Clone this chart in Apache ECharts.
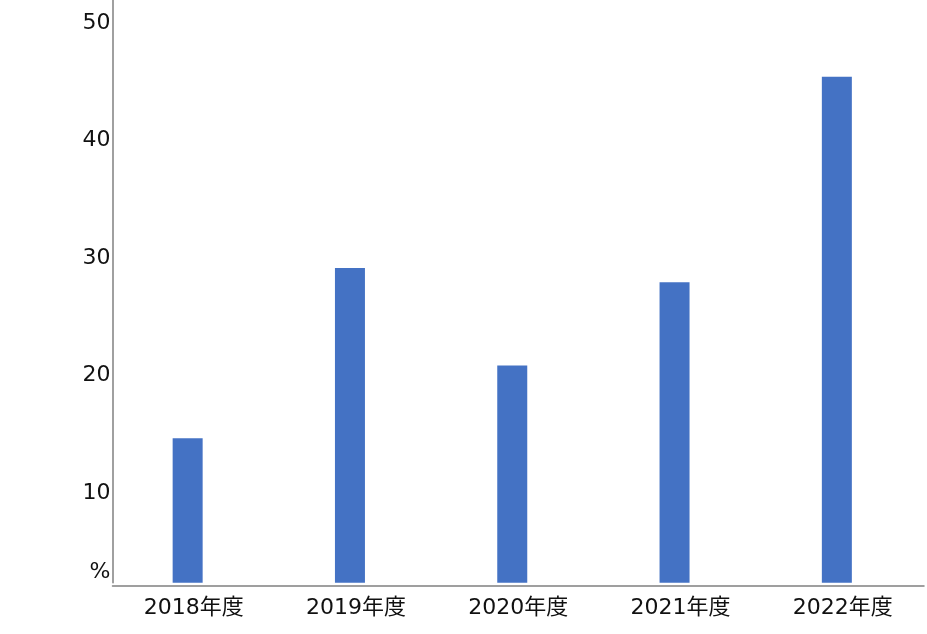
<!DOCTYPE html>
<html>
<head>
<meta charset="utf-8">
<script src="https://cdn.jsdelivr.net/npm/echarts@6/dist/echarts.min.js"></script>
<style>
html,body{margin:0;padding:0;background:#fff;overflow:hidden;}
#chart{width:927px;height:639px;position:relative;top:-5px;}
</style>
</head>
<body>
<div id="chart"></div>
<script>
const categories = ['2018年度', '2019年度', '2020年度', '2021年度', '2022年度'];
const values = [12.3, 26.8, 18.5, 25.6, 43.1];
const yTicks = [0, 10, 20, 30, 40, 50];
const unitLabel = '%';

const FONT = '"DejaVu Sans", "Noto Sans CJK JP", sans-serif';
const TEXT = '#111111';
const chart = echarts.init(document.getElementById('chart'));
chart.setOption({
  animation: false,
  backgroundColor: '#ffffff',
  grid: { left: 112.5, right: 3, top: 0.7, bottom: 51.3, containLabel: false },
  xAxis: {
    type: 'category',
    data: categories,
    offset: 3,
    axisLine: { show: true, onZero: false, lineStyle: { color: '#808080', width: 1.5 } },
    axisTick: { show: false },
    axisLabel: { color: TEXT, fontSize: 22, fontFamily: FONT, margin: 12 }
  },
  yAxis: {
    type: 'value',
    min: yTicks[0],
    max: yTicks[yTicks.length - 1],
    interval: 10,
    splitLine: { show: false },
    axisTick: { show: false },
    axisLine: { show: true, lineStyle: { color: '#808080', width: 1.5 } },
    axisLabel: {
      margin: 2,
      color: TEXT,
      fontSize: 22,
      fontFamily: FONT,
      formatter: function (v) { return v === 0 ? '{p|' + unitLabel + '}' : '{n|' + v + '}'; },
      rich: {
        n: { fontSize: 22, fontFamily: FONT, color: TEXT, padding: [55, 0, 0, 0] },
        p: { fontSize: 22, fontFamily: FONT, color: TEXT, padding: [0, 0, 21, 0] }
      }
    }
  },
  series: [
    {
      type: 'bar',
      data: values,
      barWidth: 30,
      barGap: '0%',
      itemStyle: { color: '#4472C4' }
    },
    {
      type: 'bar',
      data: values.map(function () { return null; }),
      barWidth: 12,
      barGap: '0%',
      itemStyle: { color: 'transparent' },
      silent: true
    }
  ]
});
</script>
</body>
</html>
